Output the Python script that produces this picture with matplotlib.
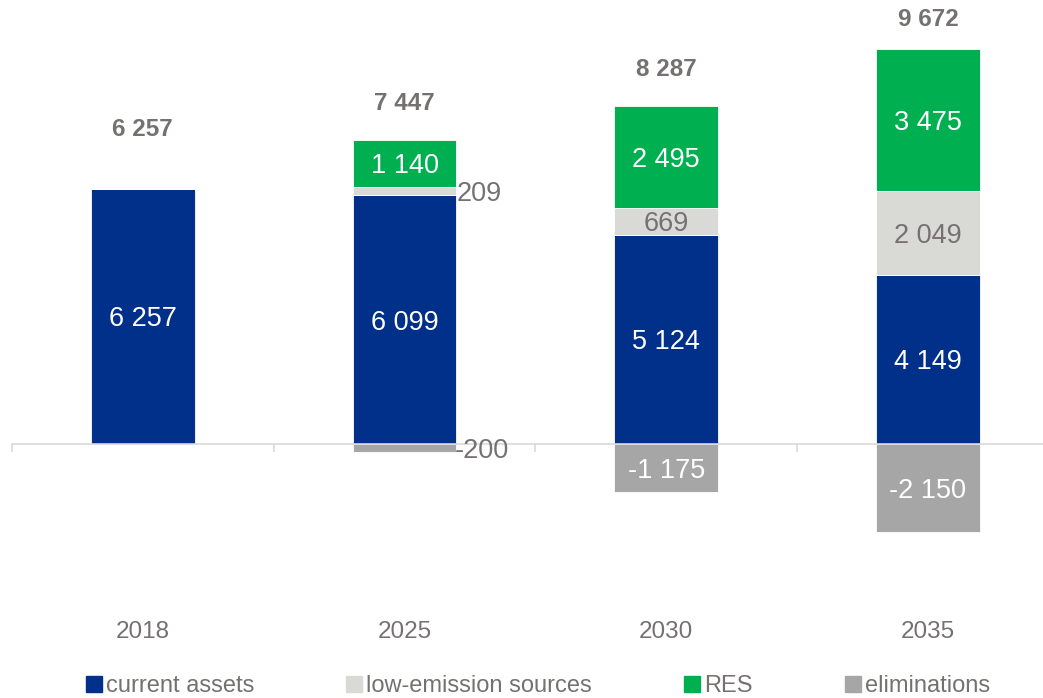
import numpy as np
import matplotlib.pyplot as plt
from matplotlib.lines import Line2D
from matplotlib.transforms import blended_transform_factory

plt.rcParams['font.family'] = ['Liberation Sans', 'DejaVu Sans']

years = ['2018', '2025', '2030', '2035']
current_assets = [6257, 6099, 5124, 4149]
low_emission = [0, 209, 669, 2049]
res = [0, 1140, 2495, 3475]
eliminations = [0, -200, -1175, -2150]
totals = [6257, 7447, 8287, 9672]

c_blue = '#00308a'
c_light = '#d9d9d6'
c_green = '#00b050'
c_elim = '#a6a6a6'
c_text = '#767171'

def fmt(v):
    s = f'{abs(v):,}'.replace(',', ' ')
    return '-' + s if v < 0 else s

W, H = 1043, 698
fig = plt.figure(figsize=(W / 100, H / 100), dpi=100)
# axes placed in pixel terms: left edge 12px, top 10px, bottom 590px
ax = fig.add_axes([12 / W, (H - 590) / H, 1 - 12 / W, 580 / H])

upp = 24.5  # data units per pixel
step = 261.7  # pixels per category

x = np.arange(len(years))
w = 0.397
kw = dict(width=w, edgecolor='white', linewidth=0.6)
ax.bar(x, current_assets, color=c_blue, **kw)
ax.bar(x, low_emission, bottom=current_assets, color=c_light, **kw)
base2 = np.array(current_assets) + np.array(low_emission)
ax.bar(x, res, bottom=base2, color=c_green, **kw)
ax.bar(x, eliminations, color=c_elim, **kw)

fs = 19.5
# segment labels
for i in range(len(years)):
    ax.text(x[i], current_assets[i] / 2, fmt(current_assets[i]), ha='center',
            va='center_baseline', color='white', fontsize=fs)
    if low_emission[i]:
        yc = current_assets[i] + low_emission[i] / 2
        if low_emission[i] < 400:
            ax.text(x[i] + w / 2, yc, fmt(low_emission[i]), ha='left', va='center_baseline',
                    color=c_text, fontsize=fs)
        else:
            ax.text(x[i], yc, fmt(low_emission[i]), ha='center', va='center_baseline',
                    color=c_text, fontsize=fs)
    if res[i]:
        ax.text(x[i], base2[i] + res[i] / 2, fmt(res[i]), ha='center', va='center_baseline',
                color='white', fontsize=fs)
    if eliminations[i]:
        if eliminations[i] > -400:
            ax.text(x[i] + w / 2 - 0.005, eliminations[i] / 2, fmt(eliminations[i]), ha='left',
                    va='center_baseline', color=c_text, fontsize=fs)
        else:
            ax.text(x[i], eliminations[i] / 2, fmt(eliminations[i]), ha='center',
                    va='center_baseline', color='white', fontsize=fs)

# totals above bars
pad = [62, 39, 39, 32]
for i in range(len(years)):
    top = base2[i] + res[i]
    ax.text(x[i], top + pad[i] * upp, fmt(totals[i]), ha='center', va='center_baseline',
            color=c_text, fontsize=17.5, fontweight='bold')

for s in ['top', 'right', 'left']:
    ax.spines[s].set_visible(False)
ax.spines['bottom'].set_position(('data', 0))
ax.spines['bottom'].set_color('#d9d9d9')
ax.spines['bottom'].set_linewidth(1.2)
ax.set_yticks([])
ax.set_xticks([-0.5, 0.5, 1.5, 2.5])
ax.tick_params(axis='x', direction='out', length=6, width=1.2, color='#d9d9d9',
               labelbottom=False)
ax.set_ylim(-(590 - 444) * upp, (444 - 10) * upp)
ax.set_xlim(-0.5, -0.5 + (W - 12) / step)

# year labels under the chart
tr = blended_transform_factory(ax.transData, fig.transFigure)
for i, yr in enumerate(years):
    ax.text(x[i], 1 - 630 / H, yr, transform=tr, ha='center', va='center_baseline',
            color=c_text, fontsize=17.5)

handles = [Line2D([], [], marker='s', linestyle='none', markersize=11, color=c)
           for c in [c_blue, c_light, c_green, c_elim]]
labels = ['current assets', 'low-emission sources', 'RES', 'eliminations']
leg = fig.legend(handles, labels, loc='center', bbox_to_anchor=(538 / W, 1 - 686 / H),
                 ncol=4, frameon=False, fontsize=17, handlelength=0.65,
                 handletextpad=0.2, columnspacing=3.9, borderpad=0)
for t in leg.get_texts():
    t.set_color(c_text)

fig.savefig('out.png', dpi=100)
